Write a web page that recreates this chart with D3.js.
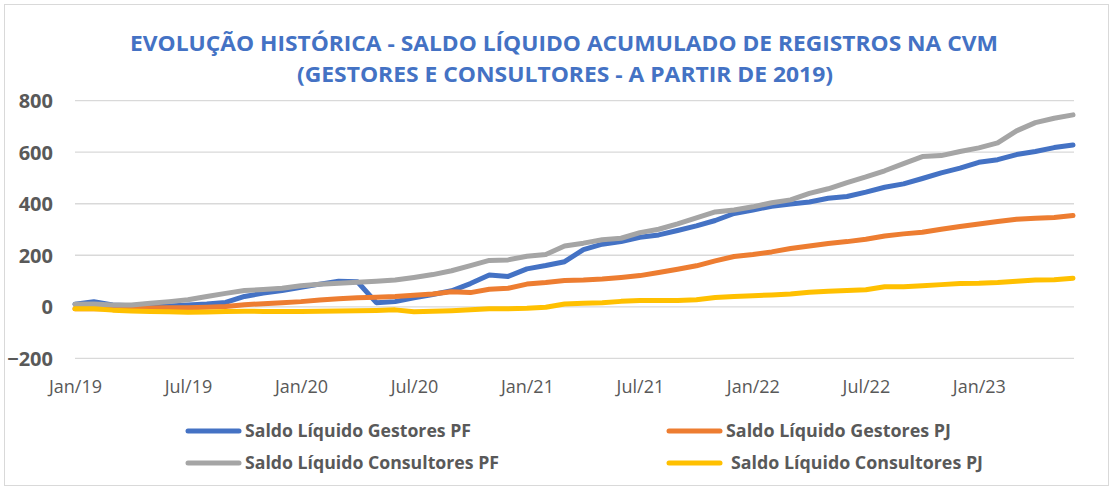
<!DOCTYPE html>
<html>
<head>
<meta charset="utf-8">
<script src="https://cdn.jsdelivr.net/npm/d3@7"></script>
<style>
  html, body { margin: 0; padding: 0; background: #fff; }
  svg { display: block; }
</style>
</head>
<body>
<svg id="chart" width="1113" height="490"></svg>
<script>
// ---- Data ----
const months = ["Jan/19","Feb/19","Mar/19","Apr/19","May/19","Jun/19","Jul/19","Aug/19","Sep/19","Oct/19","Nov/19","Dec/19",
  "Jan/20","Feb/20","Mar/20","Apr/20","May/20","Jun/20","Jul/20","Aug/20","Sep/20","Oct/20","Nov/20","Dec/20",
  "Jan/21","Feb/21","Mar/21","Apr/21","May/21","Jun/21","Jul/21","Aug/21","Sep/21","Oct/21","Nov/21","Dec/21",
  "Jan/22","Feb/22","Mar/22","Apr/22","May/22","Jun/22","Jul/22","Aug/22","Sep/22","Oct/22","Nov/22","Dec/22",
  "Jan/23","Feb/23","Mar/23","Apr/23","May/23","Jun/23"];
const tickLabels = ["Jan/19","Jul/19","Jan/20","Jul/20","Jan/21","Jul/21","Jan/22","Jul/22","Jan/23"];
const yTicks = [-200, 0, 200, 400, 600, 800];

const gestoresPF = [10,20,7,4,1,3,7,11,17,40,53,63,76,88,99,97,16,20,35,48,62,90,123,118,147,160,175,222,243,253,270,279,296,314,335,362,376,390,399,407,421,428,445,464,477,498,520,538,561,571,591,603,618,628];
const gestoresPJ = [-8,-8,-8,-7,-5,-4,-4,-2,1,8,12,16,20,26,31,35,37,40,45,50,58,55,68,72,88,94,102,104,108,114,121,133,146,159,178,195,203,213,226,236,246,253,262,275,283,289,301,312,321,331,340,344,347,354];
const consultoresPF = [10,11,7,7,14,20,27,40,52,63,67,72,82,87,91,95,99,104,114,125,140,160,180,182,196,203,236,247,260,266,288,301,322,345,368,376,388,404,415,440,458,482,504,528,556,583,587,603,617,636,683,715,732,745];
const consultoresPJ = [-8,-8,-13,-16,-18,-19,-21,-20,-18,-17,-18,-18,-18,-17,-16,-15,-14,-12,-19,-17,-15,-12,-8,-8,-6,-2,11,14,16,21,24,24,24,27,36,40,43,46,50,56,60,63,66,78,78,82,86,90,91,94,99,104,105,111];

const seriesNames = ["Saldo Líquido Gestores PF","Saldo Líquido Gestores PJ","Saldo Líquido Consultores PF","Saldo Líquido Consultores PJ"];
const seriesColors = ["#4472C4","#ED7D31","#A5A5A5","#FFC000"];
const seriesData = [gestoresPF, gestoresPJ, consultoresPF, consultoresPJ];

// ---- Chart ----
const svg = d3.select("#chart");
const font = "'Open Sans', 'Noto Sans', sans-serif";

svg.append("rect").attr("x", 4.5).attr("y", 4.5).attr("width", 1104).attr("height", 481)
  .attr("fill", "#fff").attr("stroke", "#D9D9D9").attr("stroke-width", 1);

const x = d3.scaleLinear().domain([0, months.length - 1]).range([75, 1073]);
const y = d3.scaleLinear().domain([-200, 800]).range([358.3, 100.7]);

// Title
const title = svg.append("g").attr("font-family", font).attr("font-weight", "bold")
  .attr("fill", "#4472C4").attr("font-size", 21).attr("text-anchor", "middle");
title.append("text").attr("x", 564).attr("y", 51)
  .attr("textLength", 868).attr("lengthAdjust", "spacingAndGlyphs")
  .text("EVOLUÇÃO HISTÓRICA - SALDO LÍQUIDO ACUMULADO DE REGISTROS NA CVM");
title.append("text").attr("x", 565).attr("y", 82)
  .attr("textLength", 536).attr("lengthAdjust", "spacingAndGlyphs")
  .text("(GESTORES E CONSULTORES - A PARTIR DE 2019)");

// Gridlines
svg.append("g").selectAll("line").data(yTicks).join("line")
  .attr("x1", 75).attr("x2", 1074)
  .attr("y1", d => y(d)).attr("y2", d => y(d))
  .attr("stroke", "#D9D9D9").attr("stroke-width", 1.3);

// Y axis labels
const yAxis = d3.axisLeft(y).tickValues(yTicks).tickSize(0).tickPadding(0).tickFormat(d3.format("d"));
const yg = svg.append("g").attr("transform", "translate(53,0)").call(yAxis);
yg.select(".domain").remove();
yg.selectAll("text").attr("font-family", font).attr("font-weight", "bold")
  .attr("font-size", 20).attr("fill", "#595959").attr("dy", "0.35em");

// X axis labels
const tickIdx = tickLabels.map(t => months.indexOf(t));
const xAxis = d3.axisBottom(x).tickValues(tickIdx).tickSize(0).tickPadding(0)
  .tickFormat(i => months[i]);
const xg = svg.append("g").attr("transform", "translate(0,378)").call(xAxis);
xg.select(".domain").remove();
xg.selectAll("text").attr("font-family", font).attr("font-size", 18)
  .attr("fill", "#595959").attr("dy", "0.85em");

// Lines (Excel series order: later series drawn on top)
const line = d3.line().x((d, i) => x(i)).y(d => y(d)).curve(d3.curveLinear);
svg.append("g").selectAll("path").data(seriesData).join("path")
  .attr("d", d => line(d))
  .attr("fill", "none")
  .attr("stroke", (d, k) => seriesColors[k])
  .attr("stroke-width", 5)
  .attr("stroke-linejoin", "round")
  .attr("stroke-linecap", "round");

// Legend
const legendPos = [
  {lx: 188, ly: 431, tx: 245, tw: 226},
  {lx: 669, ly: 431, tx: 726, tw: 225},
  {lx: 188, ly: 463, tx: 245, tw: 254},
  {lx: 669, ly: 463, tx: 731, tw: 252}
];
const lg = svg.append("g");
seriesNames.forEach((name, k) => {
  const p = legendPos[k];
  lg.append("line").attr("x1", p.lx).attr("x2", p.lx + 51)
    .attr("y1", p.ly).attr("y2", p.ly)
    .attr("stroke", seriesColors[k]).attr("stroke-width", 5).attr("stroke-linecap", "round");
  lg.append("text").attr("x", p.tx).attr("y", p.ly).attr("dy", "0.36em")
    .attr("font-family", font).attr("font-weight", "bold").attr("font-size", 17)
    .attr("fill", "#595959")
    .attr("textLength", p.tw).attr("lengthAdjust", "spacingAndGlyphs")
    .text(name);
});
</script>
</body>
</html>
